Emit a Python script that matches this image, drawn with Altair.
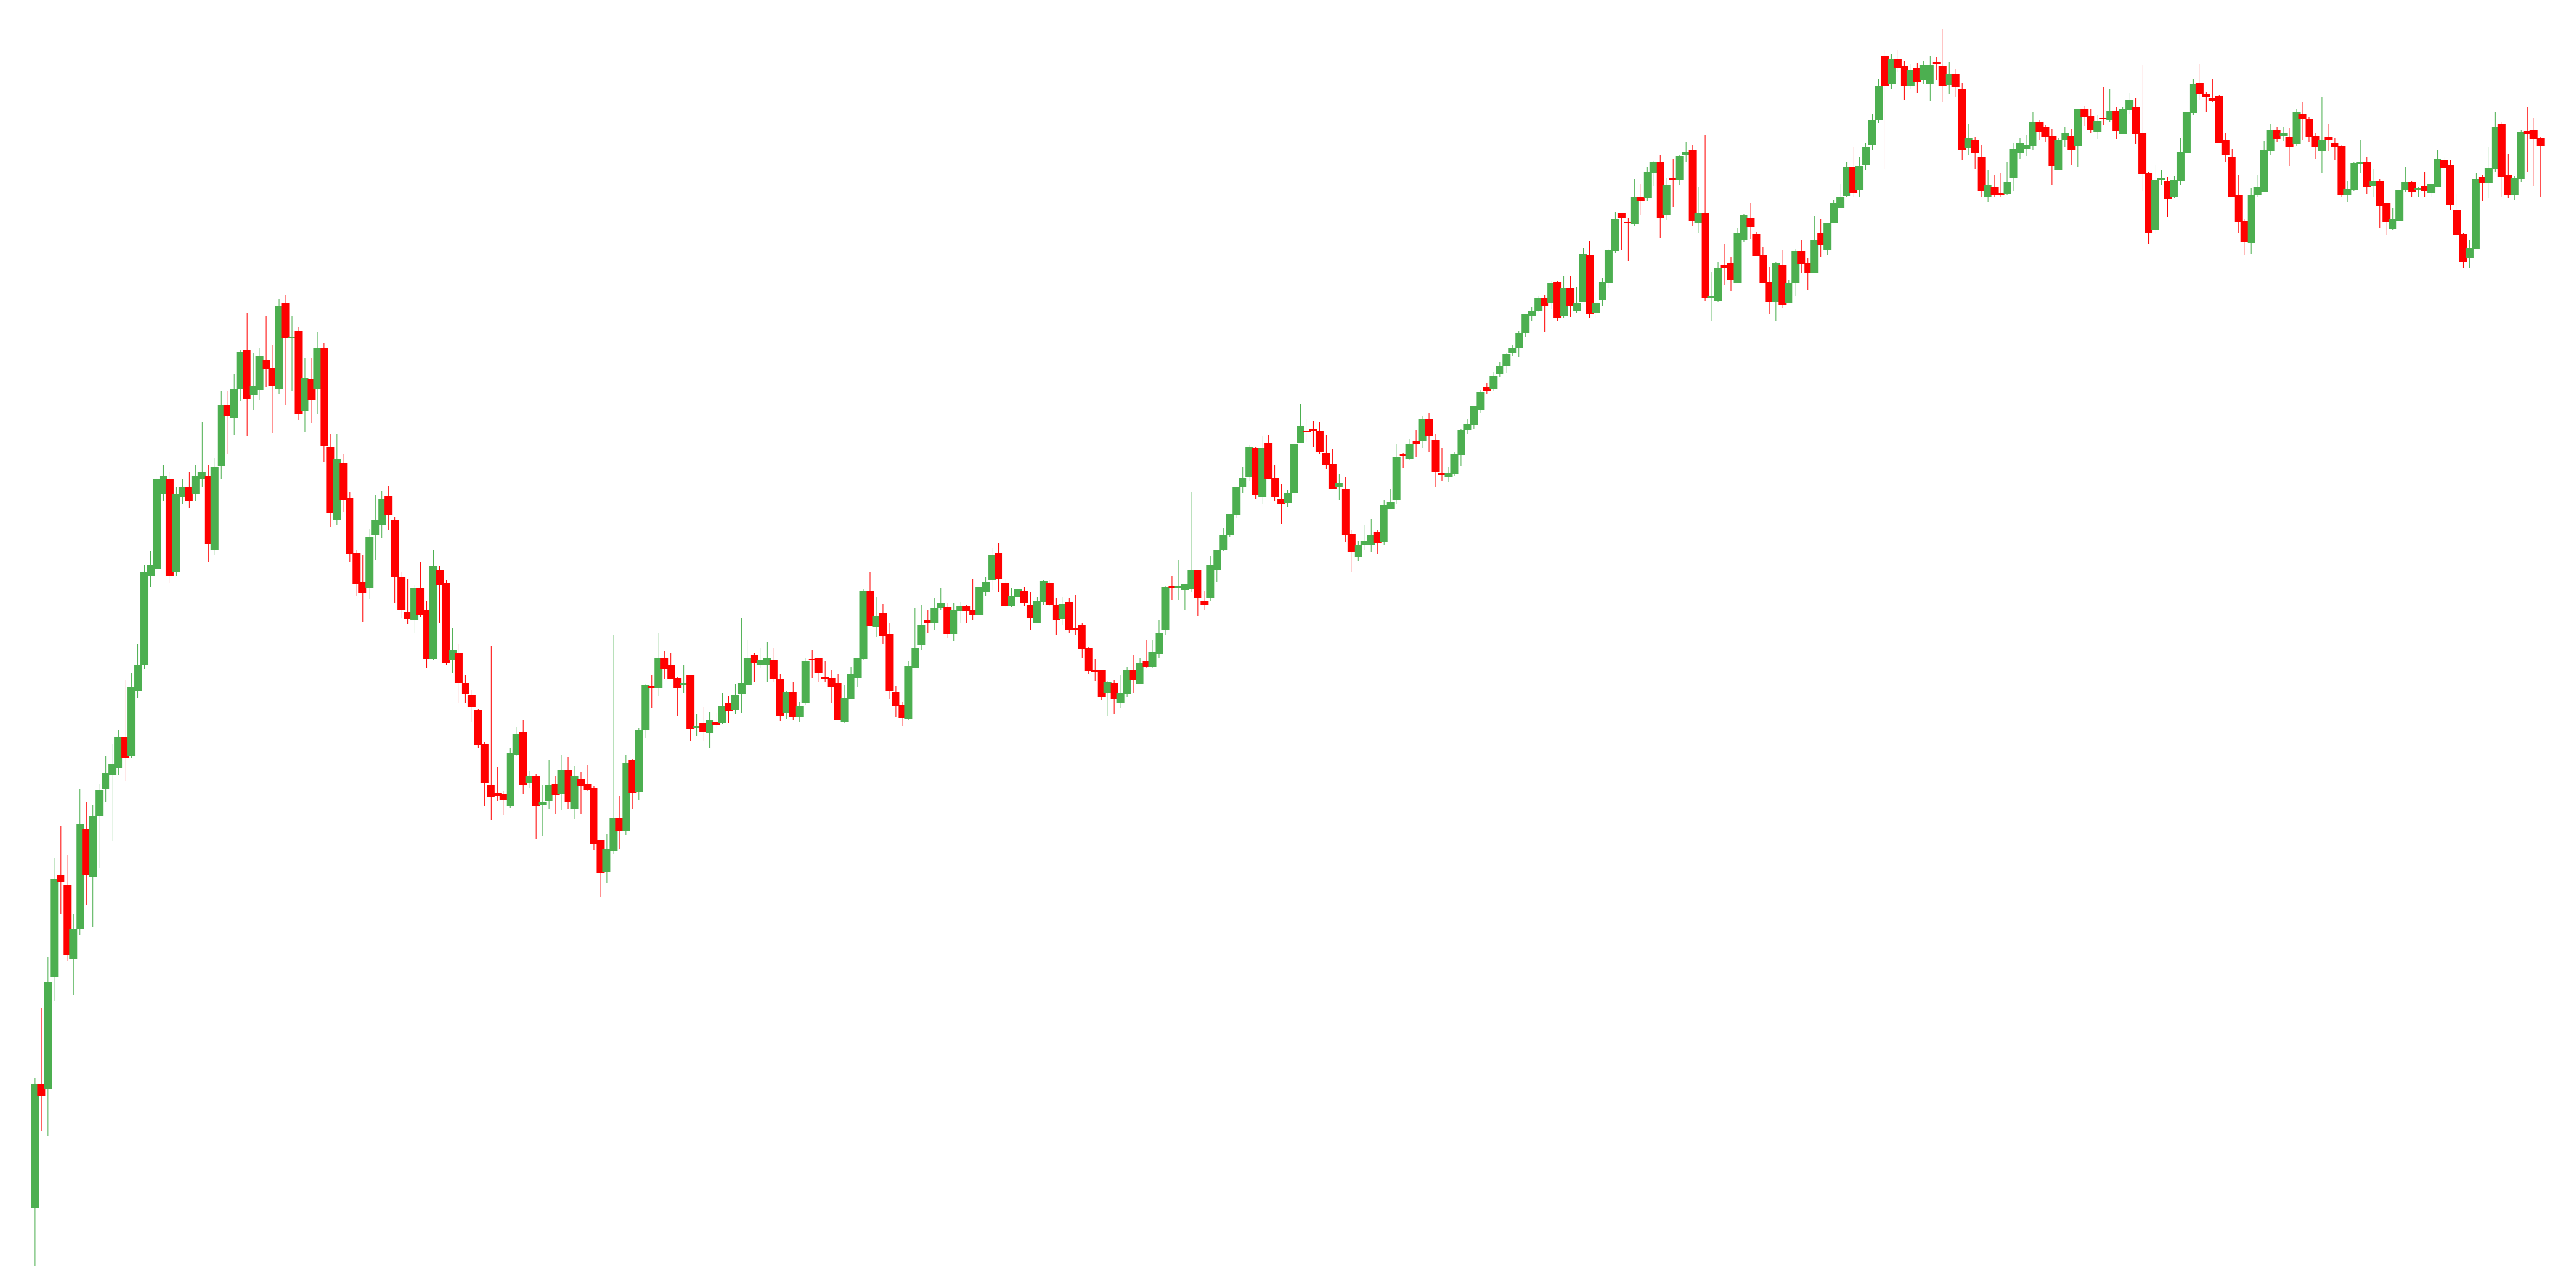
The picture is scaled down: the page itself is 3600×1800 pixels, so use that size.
import altair as alt
import pandas as pd

opens = [
11.2, 28.5, 27.8, 43.4, 57.7, 56.3, 46.0, 50.2, 64.1, 57.5,
65.9, 69.7, 71.7, 72.7, 77.0, 74.4, 83.5, 87.0, 99.5, 100.5,
111.0, 113.0, 100.0, 110.5, 112.0, 111.0, 113.0, 113.5, 103.1, 114.9,
123.4, 121.6, 125.6, 131.1, 124.8, 125.5, 129.7, 128.6, 125.6, 137.6,
132.7, 133.7, 122.6, 127.1, 125.6, 131.4, 117.6, 107.3, 115.3, 110.4,
102.7, 98.6, 97.8, 105.2, 106.6, 110.7, 107.3, 99.3, 94.5, 93.3,
97.8, 94.7, 87.9, 100.4, 98.5, 87.8, 88.7, 84.5, 82.9, 80.8,
76.0, 70.3, 69.2, 69.1, 67.3, 74.5, 77.7, 70.6, 71.5, 67.5,
68.1, 70.4, 69.1, 72.4, 66.9, 71.2, 70.5, 69.9, 62.6, 58.1,
61.1, 65.7, 63.9, 73.8, 69.3, 78.0, 84.2, 83.8, 88.0, 87.1,
85.2, 84.3, 85.7, 78.2, 79.0, 77.6, 79.1, 78.9, 81.7, 80.8,
83.0, 84.3, 88.5, 87.1, 87.1, 87.7, 85.1, 80.4, 83.3, 79.8,
81.8, 87.9, 88.1, 85.4, 85.2, 84.5, 79.1, 82.3, 85.3, 87.9,
97.4, 92.4, 94.3, 91.4, 83.3, 81.5, 79.5, 86.6, 89.9, 93.3,
93.0, 95.1, 95.2, 91.4, 94.6, 95.3, 94.7, 94.0, 97.3, 99.0,
102.7, 98.5, 95.3, 96.6, 97.4, 95.4, 92.9, 95.9, 98.5, 95.4,
93.5, 95.9, 92.2, 92.7, 89.4, 86.3, 86.3, 83.1, 84.5, 81.7,
83.0, 86.3, 84.4, 87.6, 86.8, 88.6, 92.0, 98.1, 97.8, 97.5,
97.7, 100.4, 96.0, 96.4, 100.3, 103.1, 105.2, 108.0, 111.9, 113.3,
117.4, 110.5, 118.1, 113.2, 110.3, 109.7, 111.1, 118.1, 119.8, 120.1,
119.7, 116.7, 115.2, 111.9, 111.7, 105.4, 102.2, 103.8, 103.9, 105.6,
104.2, 108.8, 110.1, 116.5, 115.9, 118.3, 118.4, 121.4, 118.5, 113.9,
113.4, 113.8, 116.4, 119.9, 120.6, 122.7, 125.9, 125.7, 127.8, 128.9,
130.6, 131.3, 133.5, 135.9, 136.5, 138.3, 137.6, 140.6, 135.8, 139.8,
136.5, 137.8, 144.3, 136.2, 138.1, 140.5, 144.9, 150.2, 149.0, 148.7,
152.4, 152.3, 155.8, 157.3, 149.9, 155.1, 154.9, 158.3, 159.0, 148.8,
150.2, 138.4, 138.0, 142.9, 143.2, 140.4, 146.5, 149.5, 147.3, 144.3,
140.6, 137.8, 143.0, 137.6, 140.4, 144.9, 143.2, 141.9, 147.5, 145.0,
148.8, 151.0, 152.6, 156.7, 153.4, 157.0, 159.7, 163.2, 172.2, 168.2,
171.8, 170.8, 168.0, 170.5, 168.8, 168.2, 171.3, 170.8, 168.1, 169.7,
167.5, 159.3, 160.4, 158.1, 152.5, 153.8, 153.0, 152.9, 155.1, 158.6,
159.2, 159.6, 163.0, 162.2, 161.0, 156.2, 160.4, 161.0, 159.6, 164.7,
163.8, 161.5, 163.5, 163.2, 164.5, 161.3, 164.6, 165.0, 161.4, 155.8,
147.9, 154.9, 154.7, 152.4, 154.7, 158.6, 164.2, 168.4, 166.9, 166.3,
166.6, 160.5, 158.0, 152.7, 149.1, 146.0, 152.8, 153.2, 158.9, 161.8,
161.0, 160.9, 159.9, 164.0, 163.4, 161.0, 158.9, 160.9, 160.0, 159.6,
152.7, 153.5, 157.1, 157.3, 154.0, 154.7, 151.6, 148.0, 149.1, 153.4,
154.6, 153.5, 154.0, 153.0, 153.8, 157.7, 156.9, 150.7, 147.3, 144.0,
145.2, 155.2, 154.4, 156.4, 162.7, 155.5, 152.8, 155.0, 161.7, 161.9,
160.7,
]

highs = [
29.4, 39.1, 46.3, 60.1, 64.5, 60.5, 52.3, 69.8, 67.9, 67.5,
70.4, 74.3, 76.0, 78.0, 85.0, 86.0, 90.0, 101.0, 103.0, 114.0,
115.0, 114.0, 112.0, 113.0, 114.0, 115.0, 121.0, 115.0, 116.0, 125.3,
125.3, 127.8, 131.1, 136.2, 130.6, 131.3, 135.8, 131.8, 138.2, 138.8,
135.9, 134.3, 129.9, 129.9, 133.6, 132.0, 119.3, 119.4, 116.5, 111.3,
103.2, 102.5, 106.1, 110.8, 111.4, 112.1, 107.8, 100.1, 99.1, 98.2,
101.4, 96.0, 103.1, 100.9, 99.0, 92.2, 90.0, 85.6, 83.6, 80.9,
76.3, 89.7, 72.8, 69.5, 75.4, 78.4, 79.4, 72.3, 71.9, 70.3,
73.8, 71.6, 74.5, 74.2, 72.9, 72.1, 73.1, 70.2, 62.6, 63.4,
91.3, 68.7, 74.5, 73.9, 78.2, 84.4, 85.6, 91.5, 89.0, 88.8,
85.4, 87.0, 85.7, 80.2, 81.2, 80.5, 80.3, 83.2, 82.7, 84.4,
93.7, 90.5, 88.8, 89.5, 90.3, 89.4, 85.8, 83.4, 84.7, 81.9,
88.0, 89.2, 88.1, 87.6, 86.3, 85.8, 84.3, 86.8, 88.0, 97.7,
100.1, 96.5, 95.6, 93.0, 84.1, 81.9, 87.6, 95.0, 95.4, 94.7,
96.4, 97.8, 95.7, 95.7, 95.8, 95.5, 99.1, 98.0, 99.4, 103.4,
104.1, 99.1, 97.8, 97.8, 97.9, 97.2, 96.5, 99.0, 99.0, 96.4,
96.5, 96.4, 96.9, 92.9, 89.6, 87.9, 86.3, 84.8, 85.0, 85.7,
86.8, 88.5, 88.0, 90.5, 90.5, 93.4, 98.1, 99.5, 101.7, 98.4,
111.3, 100.4, 97.4, 102.3, 103.2, 106.2, 108.1, 111.9, 114.8, 117.8,
117.6, 119.0, 119.2, 115.0, 112.4, 111.5, 118.4, 123.6, 121.5, 121.2,
121.0, 119.2, 117.3, 113.8, 113.4, 105.9, 104.4, 106.7, 107.5, 105.9,
110.1, 111.7, 117.9, 116.7, 118.6, 119.9, 121.8, 122.3, 119.4, 117.4,
114.7, 116.9, 120.1, 121.4, 123.3, 125.5, 126.5, 128.0, 129.4, 130.7,
131.8, 133.7, 136.1, 137.1, 138.7, 138.8, 140.7, 140.7, 141.4, 141.4,
139.9, 145.4, 146.3, 139.2, 141.1, 145.2, 150.4, 150.3, 149.6, 155.0,
154.3, 156.6, 157.5, 158.3, 155.1, 157.8, 158.4, 160.2, 159.8, 153.9,
161.2, 142.0, 143.4, 145.9, 144.1, 148.1, 150.1, 151.6, 147.6, 145.5,
142.7, 143.4, 145.0, 140.9, 145.2, 146.5, 143.9, 149.8, 149.4, 148.9,
152.1, 154.3, 157.4, 159.5, 158.0, 160.0, 164.0, 169.0, 173.0, 172.5,
173.0, 171.5, 171.0, 171.2, 171.5, 172.2, 172.1, 176.0, 171.3, 170.3,
168.4, 162.7, 160.9, 159.8, 156.2, 155.6, 155.8, 157.4, 160.0, 160.7,
161.1, 164.4, 163.2, 162.6, 162.0, 160.7, 162.2, 162.0, 164.8, 165.2,
164.8, 163.9, 167.9, 167.6, 165.1, 165.1, 167.0, 166.3, 170.9, 156.0,
156.9, 156.2, 155.3, 155.4, 160.7, 164.4, 169.0, 171.1, 167.1, 168.9,
166.7, 161.4, 159.2, 155.5, 149.4, 153.7, 155.6, 160.3, 162.7, 162.3,
162.3, 162.1, 164.7, 165.8, 163.7, 161.4, 166.5, 162.7, 160.7, 159.7,
154.7, 157.3, 160.4, 158.0, 156.4, 155.0, 151.7, 151.0, 153.4, 156.6,
154.7, 153.9, 156.0, 154.3, 159.0, 158.0, 157.6, 152.9, 147.5, 146.4,
155.8, 155.6, 159.5, 164.4, 163.0, 158.5, 155.4, 161.9, 165.0, 163.5,
160.9,
]

lows = [
3.1, 22.0, 21.2, 40.1, 52.2, 45.7, 40.9, 49.3, 53.5, 50.4,
58.7, 67.9, 62.5, 71.7, 70.9, 74.0, 82.5, 86.5, 98.0, 100.0,
110.0, 98.5, 99.5, 109.5, 109.0, 110.0, 112.0, 101.5, 102.5, 113.0,
116.6, 119.2, 123.9, 119.1, 122.7, 124.1, 125.9, 119.5, 125.0, 123.4,
125.4, 121.3, 119.6, 120.9, 122.1, 115.5, 106.4, 106.7, 108.5, 101.5,
96.7, 93.1, 96.3, 101.7, 104.8, 105.9, 95.7, 93.7, 92.8, 91.6,
93.8, 86.6, 87.8, 92.9, 87.0, 85.9, 81.7, 81.7, 79.1, 75.4,
67.4, 65.4, 68.0, 66.1, 67.1, 74.4, 69.1, 69.9, 62.7, 63.1,
67.0, 66.2, 66.8, 67.0, 65.5, 66.3, 69.4, 61.2, 54.6, 56.6,
60.6, 61.4, 63.3, 66.9, 68.2, 76.9, 81.1, 82.7, 85.1, 85.1,
80.0, 83.1, 76.5, 77.1, 76.5, 75.5, 78.2, 78.8, 79.0, 80.2,
80.3, 84.3, 84.7, 86.7, 84.7, 84.7, 79.3, 79.5, 79.4, 79.1,
81.5, 85.2, 84.7, 84.7, 81.8, 79.4, 79.0, 82.3, 84.0, 87.7,
92.5, 91.0, 90.0, 82.3, 79.8, 78.6, 79.4, 86.6, 89.2, 91.5,
92.0, 94.7, 90.9, 90.4, 92.9, 92.9, 93.3, 94.0, 96.7, 97.6,
97.3, 95.2, 95.2, 95.3, 95.3, 92.0, 92.9, 95.4, 95.3, 91.2,
92.7, 91.5, 91.2, 88.0, 85.8, 84.8, 82.2, 80.0, 80.2, 81.1,
82.6, 83.2, 84.4, 86.6, 86.6, 88.0, 91.2, 96.2, 96.2, 94.7,
97.3, 93.9, 94.7, 96.0, 98.7, 103.0, 105.0, 107.6, 111.1, 112.8,
110.3, 109.6, 113.0, 110.0, 106.8, 109.1, 110.0, 118.1, 118.2, 117.6,
116.5, 114.5, 111.6, 110.1, 104.2, 100.0, 101.6, 103.1, 102.8, 102.6,
103.9, 108.8, 109.6, 114.6, 115.7, 116.1, 117.4, 116.8, 112.0, 112.8,
112.6, 113.5, 114.9, 119.3, 120.0, 122.3, 124.9, 125.4, 127.3, 127.9,
130.2, 130.1, 132.9, 135.1, 136.4, 133.6, 136.8, 135.2, 135.5, 135.7,
136.3, 137.8, 135.5, 135.5, 137.3, 139.8, 144.7, 145.0, 143.5, 148.4,
150.0, 151.9, 154.0, 146.8, 149.3, 151.1, 154.1, 157.4, 148.4, 147.5,
138.0, 135.1, 137.8, 140.2, 139.4, 140.4, 146.2, 146.6, 144.2, 140.4,
136.1, 135.2, 136.9, 137.6, 138.7, 141.9, 139.5, 141.9, 144.1, 144.4,
148.8, 151.0, 152.4, 152.4, 152.5, 156.3, 159.0, 162.8, 156.4, 167.5,
170.0, 166.0, 167.5, 167.0, 168.2, 165.9, 168.8, 165.7, 166.8, 166.4,
157.7, 158.3, 156.4, 152.4, 151.8, 152.4, 152.4, 152.7, 153.3, 157.8,
158.2, 159.0, 160.4, 160.2, 154.2, 156.2, 159.5, 156.9, 156.6, 162.4,
161.4, 160.6, 162.6, 162.9, 160.6, 161.3, 164.0, 159.9, 153.3, 145.9,
147.3, 154.1, 149.7, 152.3, 154.2, 158.6, 163.9, 166.0, 164.3, 165.7,
160.0, 157.3, 152.5, 147.5, 144.4, 144.5, 152.4, 153.2, 158.4, 160.1,
160.3, 156.8, 159.6, 160.4, 160.1, 157.8, 155.8, 158.9, 157.7, 152.5,
151.8, 153.3, 155.8, 152.9, 152.4, 148.2, 147.1, 147.8, 149.1, 153.2,
152.4, 152.4, 152.4, 152.4, 153.8, 153.7, 150.6, 146.4, 142.6, 142.6,
145.2, 151.9, 152.3, 156.0, 152.5, 152.3, 152.1, 154.6, 155.9, 154.0,
152.4,
]

closes = [
28.5, 26.9, 42.8, 57.1, 56.8, 46.6, 50.2, 64.8, 57.7, 65.9,
69.6, 72.0, 73.2, 77.0, 74.0, 84.0, 87.0, 100.0, 101.0, 113.0,
113.5, 99.5, 111.0, 112.0, 110.0, 113.5, 114.0, 104.0, 114.7, 123.4,
121.8, 125.7, 130.8, 124.3, 126.0, 130.2, 128.5, 126.1, 137.3, 132.8,
132.9, 122.2, 127.2, 124.1, 131.4, 117.7, 108.3, 115.9, 110.1, 102.6,
98.4, 97.1, 105.0, 107.3, 110.2, 108.0, 99.3, 94.7, 93.5, 97.8,
94.1, 87.9, 100.9, 98.2, 87.3, 89.1, 84.5, 83.0, 81.2, 75.9,
70.6, 68.6, 68.7, 68.2, 74.7, 77.4, 70.3, 71.5, 67.4, 67.9,
70.3, 68.9, 72.4, 67.9, 71.5, 70.2, 69.6, 62.1, 58.0, 61.4,
65.7, 63.8, 73.4, 69.2, 78.0, 84.3, 83.8, 88.0, 86.5, 85.1,
83.9, 84.5, 78.1, 78.5, 77.7, 79.4, 78.7, 81.3, 80.6, 82.9,
84.5, 88.0, 87.4, 87.7, 88.0, 85.1, 80.0, 83.3, 79.8, 81.3,
87.6, 87.7, 85.9, 85.1, 84.0, 79.4, 82.4, 85.8, 88.0, 97.4,
92.5, 93.9, 91.1, 83.4, 81.4, 79.7, 86.9, 89.5, 92.7, 93.0,
95.1, 95.7, 91.4, 94.8, 95.3, 94.6, 94.1, 97.9, 98.7, 102.5,
99.1, 95.3, 96.7, 97.7, 95.7, 93.7, 96.0, 98.8, 95.5, 93.3,
95.6, 92.0, 92.0, 89.3, 86.2, 86.1, 82.6, 84.7, 82.3, 83.2,
86.3, 85.0, 87.4, 86.8, 88.9, 91.6, 98.0, 97.8, 98.1, 98.4,
100.4, 96.4, 95.5, 101.1, 103.2, 105.2, 108.1, 111.9, 113.2, 117.6,
110.8, 117.4, 113.0, 110.6, 109.5, 111.1, 117.9, 120.5, 119.6, 119.8,
116.9, 115.0, 111.7, 112.5, 105.3, 102.8, 103.8, 104.4, 105.3, 104.1,
109.4, 109.8, 116.2, 116.3, 117.9, 117.9, 121.4, 119.1, 114.0, 113.6,
113.9, 116.5, 119.9, 120.8, 123.3, 125.2, 125.3, 127.5, 128.9, 130.5,
131.4, 133.4, 136.1, 136.6, 138.4, 137.3, 140.5, 135.5, 139.7, 137.3,
137.6, 144.5, 136.1, 137.7, 140.6, 145.1, 149.4, 149.5, 148.8, 152.5,
151.9, 156.0, 157.4, 149.5, 154.2, 154.9, 158.2, 158.7, 149.1, 150.3,
138.4, 138.7, 142.6, 142.6, 140.8, 147.4, 149.9, 148.3, 144.2, 140.5,
137.8, 143.3, 137.4, 140.5, 144.9, 143.1, 141.9, 146.5, 145.7, 148.9,
151.6, 152.5, 156.7, 153.0, 156.8, 159.5, 163.2, 168.0, 168.0, 171.8,
170.5, 168.0, 170.2, 168.5, 170.9, 170.9, 171.1, 168.0, 169.7, 167.9,
159.1, 160.7, 158.6, 153.3, 154.2, 152.7, 152.8, 154.5, 159.2, 160.0,
159.7, 162.9, 161.5, 160.8, 156.8, 160.5, 161.4, 159.1, 164.7, 163.7,
161.9, 163.1, 163.3, 164.5, 161.7, 164.8, 166.0, 161.3, 155.7, 147.4,
154.8, 155.1, 152.2, 154.8, 158.7, 164.4, 168.3, 166.8, 166.4, 165.9,
160.0, 158.3, 152.5, 149.0, 146.2, 152.7, 153.8, 159.0, 161.9, 160.6,
161.4, 159.4, 164.3, 163.3, 160.9, 159.5, 160.4, 160.4, 159.4, 152.8,
153.6, 157.2, 157.3, 153.8, 154.7, 151.2, 149.0, 149.4, 153.4, 154.6,
153.2, 153.7, 153.3, 154.3, 157.8, 156.5, 151.3, 147.1, 143.4, 145.4,
155.0, 154.4, 156.5, 162.3, 155.3, 152.8, 155.1, 161.5, 161.3, 160.6,
159.6,
]

n = len(opens)
df = pd.DataFrame({
    "i": list(range(n)),
    "open": opens,
    "high": highs,
    "low": lows,
    "close": closes,
})
df["dir"] = ["up" if c >= o else "down" for o, c in zip(opens, closes)]

color = alt.Color(
    "dir:N",
    scale=alt.Scale(domain=["up", "down"], range=["#4CAF50", "#FF0000"]),
    legend=None,
)
xenc = alt.X("i:Q", scale=alt.Scale(domain=[-4, 394.1], nice=False, zero=False), axis=None)
yscale = alt.Scale(domain=[0.8, 179.2], nice=False, zero=False)

base = alt.Chart(df)
wick = base.mark_rule(strokeWidth=1).encode(
    x=xenc,
    y=alt.Y("low:Q", scale=yscale, axis=None),
    y2="high:Q",
    color=color,
)
body = base.mark_bar(size=11).encode(
    x=xenc,
    y=alt.Y("open:Q", scale=yscale, axis=None),
    y2="close:Q",
    color=color,
)

chart = (
    alt.layer(wick, body)
    .properties(width=3584, height=1784, padding=0)
    .configure_view(stroke=None)
)
chart.save("out.html", embed_options={"renderer": "svg", "actions": False})
